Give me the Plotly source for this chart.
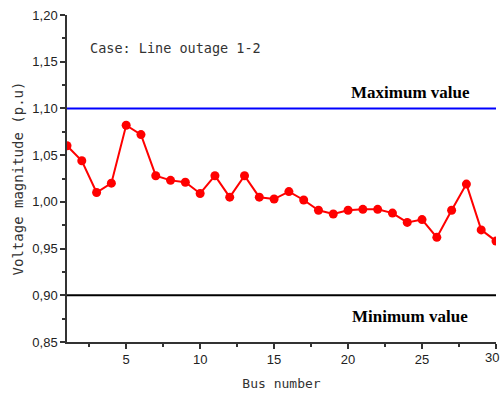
import plotly.graph_objects as go

bus = list(range(1, 31))
voltage = [1.060, 1.044, 1.010, 1.020, 1.082, 1.072, 1.028, 1.023, 1.021, 1.009,
           1.028, 1.005, 1.028, 1.005, 1.003, 1.011, 1.002, 0.991, 0.987, 0.991,
           0.992, 0.992, 0.988, 0.978, 0.981, 0.962, 0.991, 1.019, 0.970, 0.958]
v_max = 1.10
v_min = 0.90
y_ticks = [0.85, 0.90, 0.95, 1.00, 1.05, 1.10, 1.15, 1.20]
x_ticks = [5, 10, 15, 20, 25, 30]

fig = go.Figure()
fig.add_trace(go.Scatter(x=[1, 30], y=[v_max, v_max], mode="lines",
                         line=dict(color="#0000ff", width=2), showlegend=False))
fig.add_trace(go.Scatter(x=[1, 30], y=[v_min, v_min], mode="lines",
                         line=dict(color="#000000", width=2), showlegend=False))
fig.add_trace(go.Scatter(x=bus, y=voltage, mode="lines+markers",
                         line=dict(color="#ff0000", width=2),
                         marker=dict(color="#ff0000", size=9),
                         showlegend=False))

axis_font = dict(family="Liberation Sans, Arial", size=13, color="#222")
fig.update_layout(
    width=501, height=394,
    margin=dict(l=67, r=5, t=15, b=52),
    plot_bgcolor="white", paper_bgcolor="white",
    separators=",.",
    xaxis=dict(range=[1, 30], tickvals=x_ticks, ticks="outside", ticklen=5,
               tickwidth=1.5, tickcolor="#333", showline=True, linecolor="#333",
               linewidth=1.5, showgrid=False, zeroline=False, tickfont=axis_font,
               minor=dict(tickvals=[2.5, 7.5, 12.5, 17.5, 22.5, 27.5], ticks="outside",
                          ticklen=3, tickcolor="#333", tickwidth=1.5),
               title=dict(text="Bus number", standoff=13,
                          font=dict(family="DejaVu Sans Mono", size=13, color="#333"))),
    yaxis=dict(range=[0.85, 1.20], tickvals=y_ticks, tickformat=".2f",
               ticks="outside", ticklen=5, tickwidth=1.5, tickcolor="#333",
               showline=True, linecolor="#333", linewidth=1.5, showgrid=False,
               zeroline=False, tickfont=axis_font,
               minor=dict(dtick=0.025, ticks="outside", ticklen=3,
                          tickcolor="#333", tickwidth=1.5),
               title=dict(text="Voltage magnitude (p.u)", standoff=5,
                          font=dict(family="DejaVu Sans Mono", size=14, color="#333"))),
    annotations=[
        dict(x=0.05, y=1.165, xref="paper", yref="y", xanchor="left", yanchor="middle",
             text="Case: Line outage 1-2", showarrow=False,
             font=dict(family="DejaVu Sans Mono", size=13.5, color="#333")),
        dict(x=0.80, y=1.117, xref="paper", yref="y", xanchor="center", yanchor="middle",
             text="<b>Maximum value</b>", showarrow=False,
             font=dict(family="Liberation Serif", size=17, color="#000")),
        dict(x=0.80, y=0.877, xref="paper", yref="y", xanchor="center", yanchor="middle",
             text="<b>Minimum value</b>", showarrow=False,
             font=dict(family="Liberation Serif", size=17, color="#000")),
        dict(x=30, y=0, xref="x", yref="paper", xanchor="center", yanchor="top",
             xshift=-4, yshift=-6, text="30", showarrow=False, font=axis_font),
    ],
)

fig.write_html("out.html")
